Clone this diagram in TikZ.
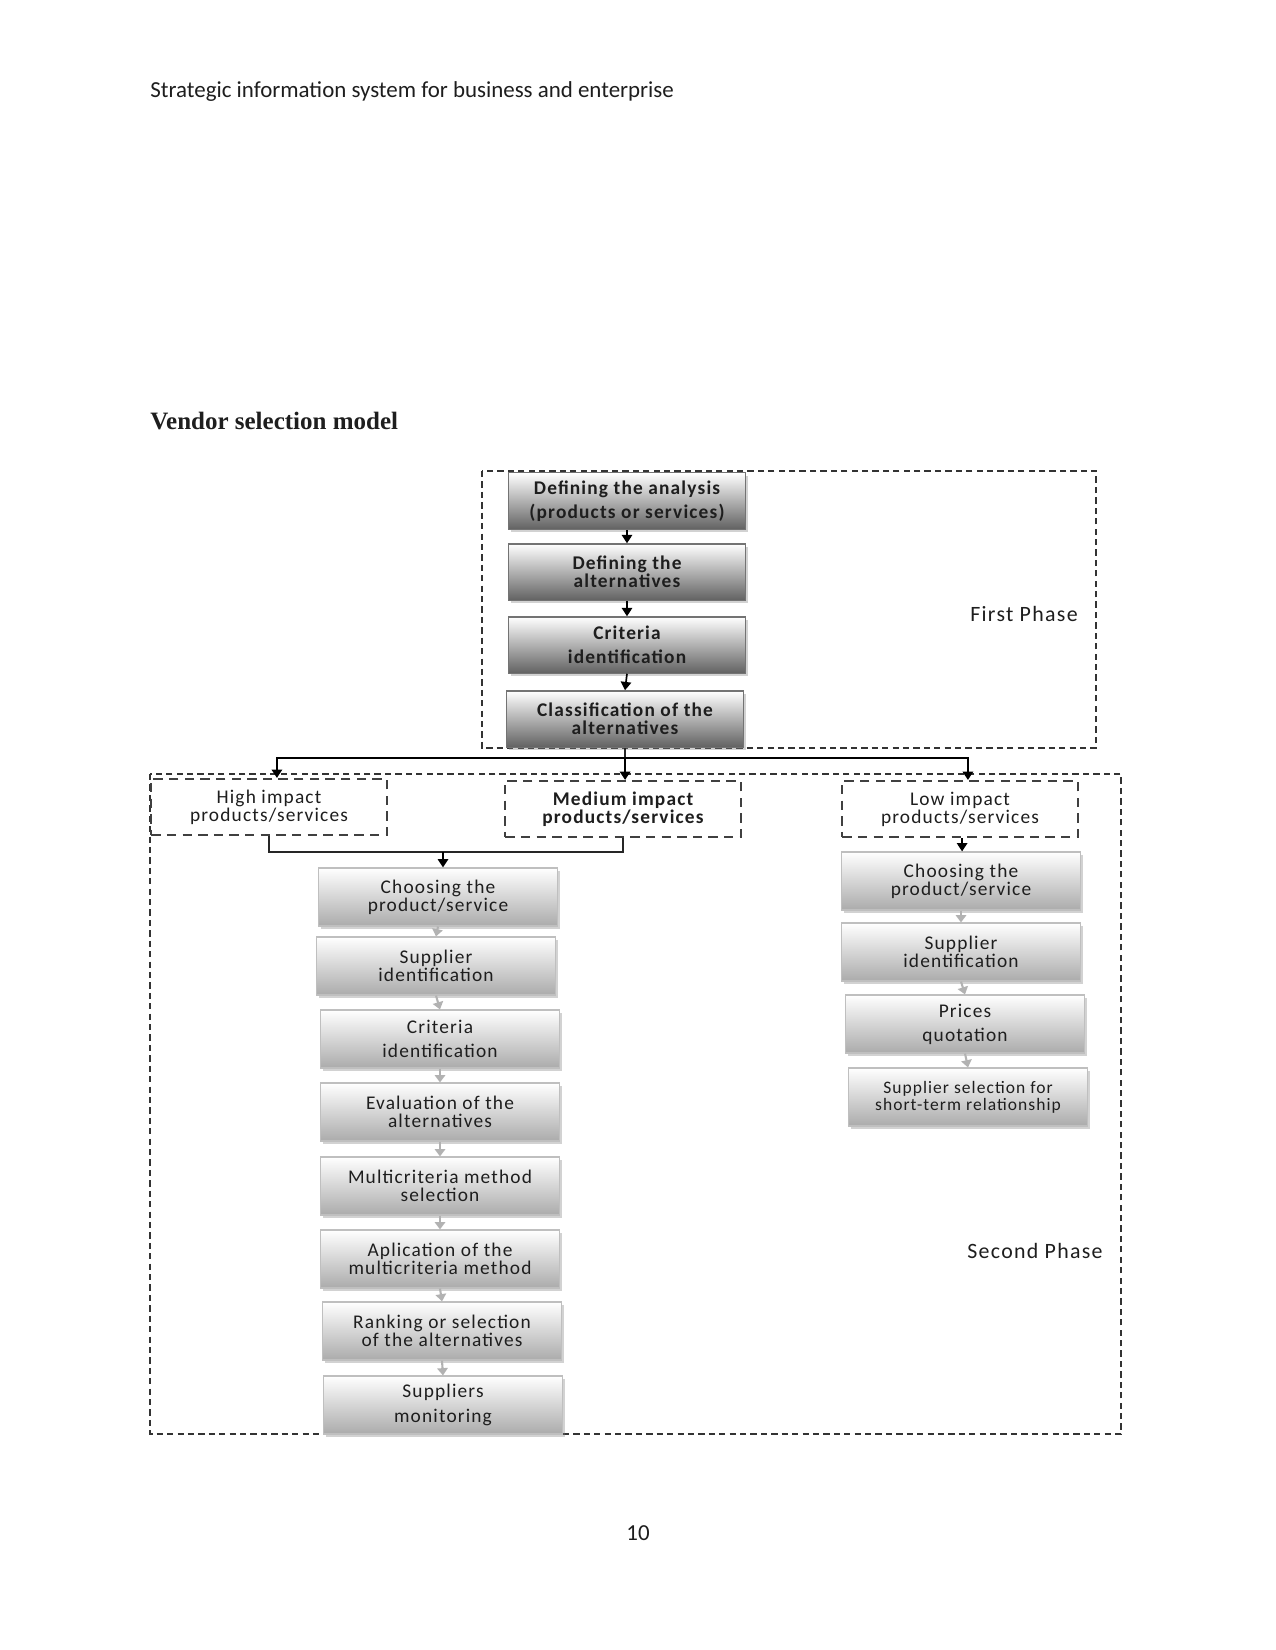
\documentclass[tikz,border=0pt]{standalone}
\usepackage{fontspec}
\setmainfont{Carlito}
\newfontfamily\serifb{Liberation Serif}
\newfontfamily\dfont{Carlito}[LetterSpace=6]
\usetikzlibrary{shadows,arrows.meta,calc}
\definecolor{pone}{HTML}{626262}
\definecolor{ptwo}{HTML}{ABABAB}
\definecolor{txt}{HTML}{1E1E1E}
\begin{document}
\begin{tikzpicture}[x=0.48pt,y=-0.48pt,
  boxbase/.style={align=center, inner sep=1pt, text=txt,
    drop shadow={shadow xshift=1.2pt, shadow yshift=-1.4pt, opacity=0.35}},
  pone/.style={boxbase, draw=black!55, line width=0.6pt, top color=white, bottom color=pone,
    minimum width=114pt, minimum height=27pt,
    font=\dfont\bfseries\fontsize{9.3}{8.6}\selectfont},
  ptwo/.style={boxbase, draw=black!25, line width=0.6pt, top color=white, bottom color=ptwo,
    minimum width=114.5pt, minimum height=27.8pt,
    font=\dfont\fontsize{9.3}{8.6}\selectfont},
  impbox/.style={draw=black!75, line width=0.9pt, dash pattern=on 4.5pt off 3pt,
    minimum width=113pt, minimum height=27pt, align=center, inner sep=1pt, text=txt,
    font=\dfont\fontsize{9.3}{8.6}\selectfont},
  phaseframe/.style={draw=black!80, line width=0.6pt, dash pattern=on 3pt off 2pt},
  arr/.style={-{Triangle[length=4pt,width=5pt]}, draw=black, line width=0.8pt},
  garr/.style={-{Triangle[length=3.5pt,width=5pt]}, draw=black!30, line width=1pt},
  conn/.style={draw=black!85, line width=0.8pt},
  phaselabel/.style={text=txt, font=\dfont\fontsize{10.5}{12}\selectfont}
]
\useasboundingbox (0,0) rectangle (1275,1650);
\fill[white] (0,0) rectangle (1275,1650);

% page text
\node[anchor=west, inner sep=0pt, text=txt, font=\fontsize{11}{13}\selectfont] (hdr) at (150,92)
  {Strategic information system for business and enterprise};
\node[anchor=west, inner sep=0pt, text=txt, font=\serifb\bfseries\fontsize{12}{14}\selectfont] (ttl) at (150,421)
  {Vendor selection model};
\node[inner sep=0pt, text=txt, font=\fontsize{11}{13}\selectfont] (pg) at (638,1533) {10};

% phase frames
\draw[phaseframe] (482,471) rectangle (1096,748);
\draw[phaseframe] (150,774) rectangle (1121,1434);
\node[phaselabel] (fp) at (1024,614) {First Phase};
\node[phaselabel] (sp) at (1035,1251) {Second Phase};

% first phase
\node[pone] (d1) at (627,501) {Defining the analysis\\[3pt](products or services)};
\node[pone] (d2) at (627,572) {Defining the\\alternatives};
\node[pone] (d3) at (627,645) {Criteria\\[3pt]identification};
\node[pone] (d4) at (625,719) {Classification of the\\alternatives};
\draw[arr] (d1.south) -- (d2.north);
\draw[arr] (d2.south) -- (d3.north);
\draw[arr] (d3.south) -- (d4.north);

% impact boxes
\node[impbox] (high) at (269,807) {High impact\\products/services};
\node[impbox, font=\dfont\bfseries\fontsize{9.3}{8.6}\selectfont] (med) at (623,809) {Medium impact\\products/services};
\node[impbox] (low) at (960,809) {Low impact\\products/services};

\coordinate (split) at ($(d4.south)+(0,10)$);
\draw[conn] (d4.south) -- (split);
\draw[arr] (split) -| ([xshift=3.8pt]high.north);
\draw[arr] (split) -| ([xshift=1pt]med.north);
\draw[arr] (split) -| ([xshift=3.8pt]low.north);

% left column
\node[ptwo] (c1) at (438,897) {Choosing the\\product/service};
\node[ptwo] (c2) at (436,966) {Supplier\\identification};
\node[ptwo] (c3) at (440,1039) {Criteria\\[3pt]identification};
\node[ptwo] (c4) at (440,1112) {Evaluation of the\\alternatives};
\node[ptwo] (c5) at (440,1186) {Multicriteria method\\selection};
\node[ptwo] (c6) at (440,1259) {Aplication of the\\multicriteria method};
\node[ptwo] (c7) at (442,1331) {Ranking or selection\\of the alternatives};
\node[ptwo] (c8) at (443,1405) {Suppliers\\[3pt]monitoring};

\coordinate (mj) at (443,852);
\draw[conn] (high.south) |- (mj);
\draw[conn] (med.south) |- (mj);
\draw[arr] (mj) -- (c1.north -| mj);
\draw[garr] (c1.south) -- (c2.north);
\draw[garr] (c2.south) -- (c3.north);
\draw[garr] (c3.south) -- (c4.north);
\draw[garr] (c4.south) -- (c5.north);
\draw[garr] (c5.south) -- (c6.north);
\draw[garr] (c6.south) -- (c7.north);
\draw[garr] (c7.south) -- (c8.north);

% right column
\node[ptwo] (r1) at (961,881) {Choosing the\\product/service};
\node[ptwo] (r2) at (961,952) {Supplier\\identification};
\node[ptwo] (r3) at (965,1024) {Prices\\[3pt]quotation};
\node[ptwo, font=\dfont\fontsize{8.4}{8}\selectfont] (r4) at (968,1097) {Supplier selection for\\short-term relationship};
\draw[arr] ([xshift=1pt]low.south) -- ([xshift=1pt]low.south |- r1.north);
\draw[garr] (r1.south) -- (r2.north);
\draw[garr] (r2.south) -- (r3.north);
\draw[garr] (r3.south) -- (r4.north);
\end{tikzpicture}
\end{document}
